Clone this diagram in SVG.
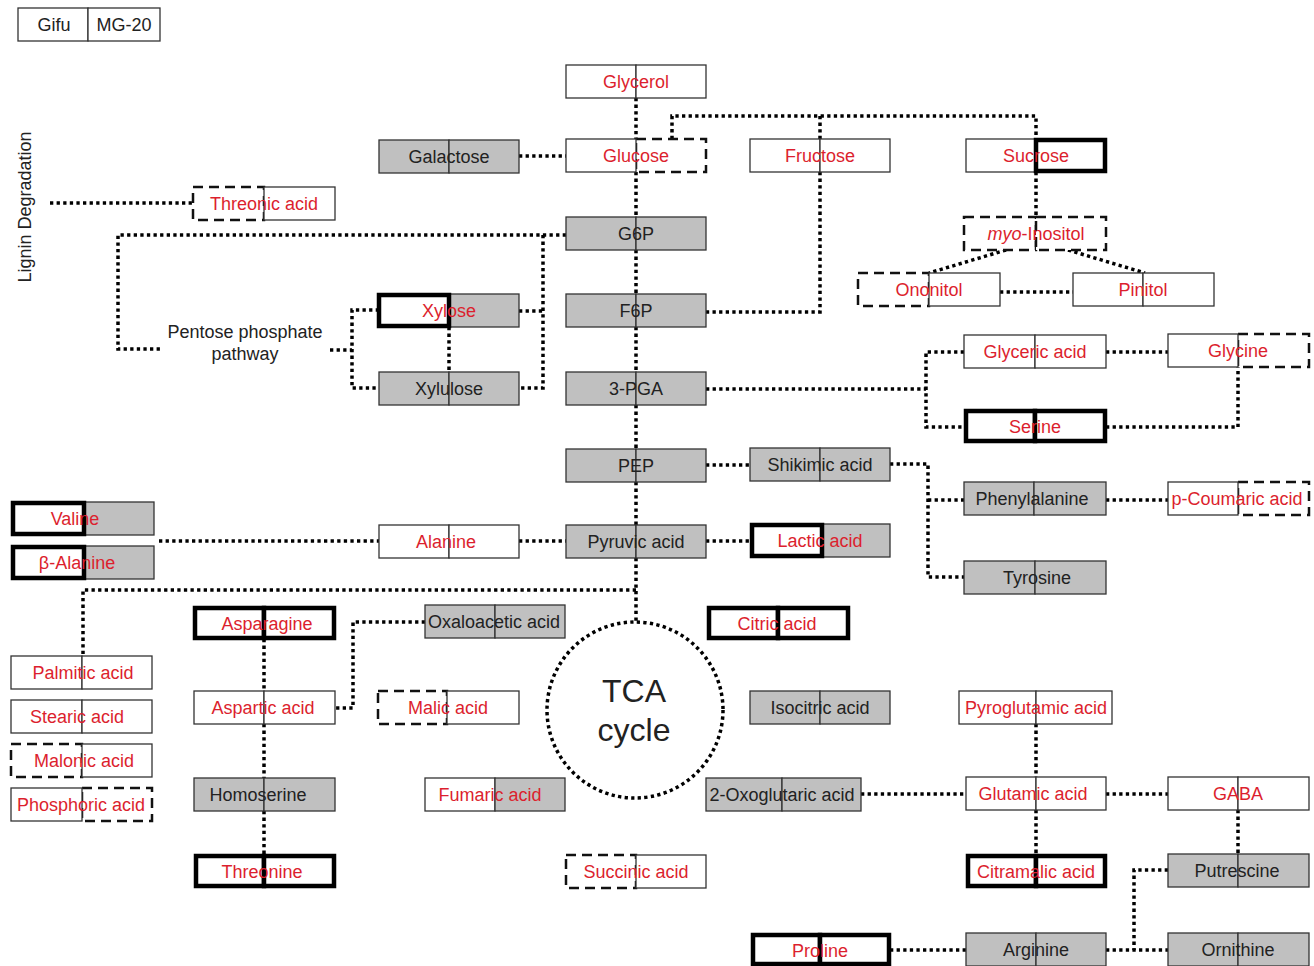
<svg xmlns="http://www.w3.org/2000/svg" width="1314" height="966" viewBox="0 0 1314 966">
<style>
.w{fill:#fff;stroke:#333;stroke-width:1.3}
.g{fill:#c0c0c0;stroke:#333;stroke-width:1.3}
.k{fill:#fff;stroke:#000;stroke-width:4.5}
.d{fill:#fff;stroke:#111;stroke-width:2.5;stroke-dasharray:10 6}
text{font-family:"Liberation Sans",Arial,sans-serif;font-size:18px;text-anchor:middle}
.r{fill:#dc1f2e}
.b{fill:#222}
.c path,.c circle{fill:none;stroke:#000;stroke-width:3.5;stroke-dasharray:3.3 3.3}
</style>
<rect width="1314" height="966" fill="#fff"/>
<g id="connectors" class="c">
<path d="M636 98V139M636 172V217M636 250V294M636 327V372M636 405V449M636 482V525M636 558V622"/>
<path d="M519 156H566"/>
<path d="M672 139V116H1036V139M820 116V139"/>
<path d="M820 172V312H706"/>
<path d="M50 203H193"/>
<path d="M566 235H118V349H160"/>
<path d="M543 235V388H519M519 311H543"/>
<path d="M330 350H352M379 310H352V388H379"/>
<path d="M449 327V372"/>
<path d="M706 389H926M964 352H926V427H964"/>
<path d="M1106 352H1168"/>
<path d="M1106 427H1238V367"/>
<path d="M1036 172V217"/>
<path d="M1006 250L929 273M1068 250L1145 273"/>
<path d="M1000 292H1073"/>
<path d="M706 465H750"/>
<path d="M890 464H928V577H964M928 500H964"/>
<path d="M1106 500H1168"/>
<path d="M159 541H379M519 541H566M706 541H750"/>
<path d="M636 590H83V656"/>
<path d="M425 622H353V708H335"/>
<path d="M264 639V691M264 724V778M264 811V854"/>
<circle cx="635" cy="710" r="88"/>
<path d="M1036 724V777M1036 810V854"/>
<path d="M861 794H966M1106 794H1168"/>
<path d="M1238 810V854"/>
<path d="M1168 870H1134V950"/>
<path d="M890 950H966M1106 950H1168"/>
</g>
<g id="legend"><rect class="w" x="18" y="8" width="70" height="33"/><rect class="w" x="88" y="8" width="72" height="33"/><text class="b" x="54" y="31">Gifu</text><text class="b" x="124" y="31">MG-20</text></g>
<text id="lignin" class="b" transform="translate(31 207) rotate(-90)" x="0" y="0">Lignin Degradation</text>
<g id="pentose"><text class="b" x="245" y="338">Pentose phosphate</text><text class="b" x="245" y="360">pathway</text></g>
<g id="tca"><text class="b" x="634" y="702" style="font-size:32px">TCA</text><text class="b" x="634" y="741" style="font-size:32px">cycle</text></g>
<g id="glycerol"><rect class="w" x="566" y="65" width="70" height="33"/><rect class="w" x="636" y="65" width="70" height="33"/><text class="r" x="636" y="88">Glycerol</text></g>
<g id="galactose"><rect class="g" x="379" y="140" width="70" height="33"/><rect class="g" x="449" y="140" width="70" height="33"/><text class="b" x="449" y="163">Galactose</text></g>
<g id="glucose"><rect class="d" x="636" y="139" width="70" height="33"/><rect class="w" x="566" y="139" width="70" height="33"/><text class="r" x="636" y="162">Glucose</text></g>
<g id="fructose"><rect class="w" x="750" y="139" width="70" height="33"/><rect class="w" x="820" y="139" width="70" height="33"/><text class="r" x="820" y="162">Fructose</text></g>
<g id="sucrose"><rect class="w" x="966" y="139" width="70" height="33"/><rect class="k" x="1036" y="140" width="69" height="31"/><text class="r" x="1036" y="162">Sucrose</text></g>
<g id="threonic"><rect class="d" x="193" y="187" width="71" height="33"/><rect class="w" x="264" y="187" width="71" height="33"/><text class="r" x="264" y="210">Threonic acid</text></g>
<g id="g6p"><rect class="g" x="566" y="217" width="70" height="33"/><rect class="g" x="636" y="217" width="70" height="33"/><text class="b" x="636" y="240">G6P</text></g>
<g id="myo-inositol"><rect class="d" x="964" y="217" width="72" height="33"/><rect class="d" x="1036" y="217" width="70" height="33"/><text class="r" x="1036" y="240"><tspan font-style="italic">myo</tspan>-Inositol</text></g>
<g id="ononitol"><rect class="d" x="858" y="273" width="71" height="33"/><rect class="w" x="929" y="273" width="71" height="33"/><text class="r" x="929" y="296">Ononitol</text></g>
<g id="pinitol"><rect class="w" x="1073" y="273" width="70" height="33"/><rect class="w" x="1143" y="273" width="71" height="33"/><text class="r" x="1143" y="296">Pinitol</text></g>
<g id="xylose"><rect class="g" x="449" y="294" width="70" height="33"/><rect class="k" x="379" y="295" width="70" height="31"/><text class="r" x="449" y="317">Xylose</text></g>
<g id="f6p"><rect class="g" x="566" y="294" width="70" height="33"/><rect class="g" x="636" y="294" width="70" height="33"/><text class="b" x="636" y="317">F6P</text></g>
<g id="xylulose"><rect class="g" x="379" y="372" width="70" height="33"/><rect class="g" x="449" y="372" width="70" height="33"/><text class="b" x="449" y="395">Xylulose</text></g>
<g id="pga"><rect class="g" x="566" y="372" width="70" height="33"/><rect class="g" x="636" y="372" width="70" height="33"/><text class="b" x="636" y="395">3-PGA</text></g>
<g id="glyceric"><rect class="w" x="964" y="335" width="71" height="33"/><rect class="w" x="1035" y="335" width="71" height="33"/><text class="r" x="1035" y="358">Glyceric acid</text></g>
<g id="glycine"><rect class="d" x="1238" y="334" width="71" height="33"/><rect class="w" x="1168" y="334" width="70" height="33"/><text class="r" x="1238" y="357">Glycine</text></g>
<g id="serine"><rect class="k" x="966" y="411" width="69" height="30"/><rect class="k" x="1035" y="411" width="70" height="30"/><text class="r" x="1035" y="433">Serine</text></g>
<g id="pep"><rect class="g" x="566" y="449" width="70" height="33"/><rect class="g" x="636" y="449" width="70" height="33"/><text class="b" x="636" y="472">PEP</text></g>
<g id="shikimic"><rect class="g" x="750" y="448" width="70" height="33"/><rect class="g" x="820" y="448" width="70" height="33"/><text class="b" x="820" y="471">Shikimic acid</text></g>
<g id="phenylalanine"><rect class="g" x="964" y="482" width="70" height="33"/><rect class="g" x="1034" y="482" width="72" height="33"/><text class="b" x="1032" y="505">Phenylalanine</text></g>
<g id="tyrosine"><rect class="g" x="964" y="561" width="71" height="33"/><rect class="g" x="1035" y="561" width="71" height="33"/><text class="b" x="1037" y="584">Tyrosine</text></g>
<g id="pcoumaric"><rect class="d" x="1238" y="482" width="71" height="33"/><rect class="w" x="1168" y="482" width="70" height="33"/><text class="r" x="1237" y="505">p-Coumaric acid</text></g>
<g id="valine"><rect class="g" x="84" y="502" width="70" height="33"/><rect class="k" x="13" y="503" width="71" height="31"/><text class="r" x="75" y="525">Valine</text></g>
<g id="balanine"><rect class="g" x="84" y="546" width="70" height="33"/><rect class="k" x="13" y="547" width="71" height="31"/><text class="r" x="77" y="569">β-Alanine</text></g>
<g id="alanine"><rect class="w" x="379" y="525" width="70" height="33"/><rect class="w" x="449" y="525" width="70" height="33"/><text class="r" x="446" y="548">Alanine</text></g>
<g id="pyruvic"><rect class="g" x="566" y="525" width="70" height="33"/><rect class="g" x="636" y="525" width="70" height="33"/><text class="b" x="636" y="548">Pyruvic acid</text></g>
<g id="lactic"><rect class="g" x="822" y="524" width="68" height="33"/><rect class="k" x="752" y="525" width="70" height="31"/><text class="r" x="820" y="547">Lactic acid</text></g>
<g id="asparagine"><rect class="k" x="195" y="608" width="69" height="30"/><rect class="k" x="264" y="608" width="70" height="30"/><text class="r" x="267" y="630">Asparagine</text></g>
<g id="oxaloacetic"><rect class="g" x="425" y="605" width="70" height="33"/><rect class="g" x="495" y="605" width="70" height="33"/><text class="b" x="494" y="628">Oxaloacetic acid</text></g>
<g id="citric"><rect class="k" x="709" y="608" width="69" height="30"/><rect class="k" x="778" y="608" width="70" height="30"/><text class="r" x="777" y="630">Citric acid</text></g>
<g id="palmitic"><rect class="w" x="11" y="656" width="71" height="33"/><rect class="w" x="82" y="656" width="70" height="33"/><text class="r" x="83" y="679">Palmitic acid</text></g>
<g id="stearic"><rect class="w" x="11" y="700" width="71" height="33"/><rect class="w" x="82" y="700" width="70" height="33"/><text class="r" x="77" y="723">Stearic acid</text></g>
<g id="malonic"><rect class="d" x="11" y="744" width="71" height="33"/><rect class="w" x="82" y="744" width="70" height="33"/><text class="r" x="84" y="767">Malonic acid</text></g>
<g id="phosphoric"><rect class="d" x="82" y="788" width="70" height="33"/><rect class="w" x="11" y="788" width="71" height="33"/><text class="r" x="81" y="811">Phosphoric acid</text></g>
<g id="aspartic"><rect class="w" x="194" y="691" width="70" height="33"/><rect class="w" x="264" y="691" width="71" height="33"/><text class="r" x="263" y="714">Aspartic acid</text></g>
<g id="malic"><rect class="d" x="378" y="691" width="69" height="33"/><rect class="w" x="447" y="691" width="72" height="33"/><text class="r" x="448" y="714">Malic acid</text></g>
<g id="isocitric"><rect class="g" x="750" y="691" width="70" height="33"/><rect class="g" x="820" y="691" width="70" height="33"/><text class="b" x="820" y="714">Isocitric acid</text></g>
<g id="pyroglutamic"><rect class="w" x="959" y="691" width="77" height="33"/><rect class="w" x="1036" y="691" width="76" height="33"/><text class="r" x="1036" y="714">Pyroglutamic acid</text></g>
<g id="homoserine"><rect class="g" x="194" y="778" width="70" height="33"/><rect class="g" x="264" y="778" width="71" height="33"/><text class="b" x="258" y="801">Homoserine</text></g>
<g id="fumaric"><rect class="w" x="425" y="778" width="70" height="33"/><rect class="g" x="495" y="778" width="70" height="33"/><text class="r" x="490" y="801">Fumaric acid</text></g>
<g id="oxoglutaric"><rect class="g" x="706" y="778" width="76" height="33"/><rect class="g" x="782" y="778" width="79" height="33"/><text class="b" x="782" y="801">2-Oxoglutaric acid</text></g>
<g id="glutamic"><rect class="w" x="966" y="777" width="70" height="33"/><rect class="w" x="1036" y="777" width="70" height="33"/><text class="r" x="1033" y="800">Glutamic acid</text></g>
<g id="gaba"><rect class="w" x="1168" y="777" width="70" height="33"/><rect class="w" x="1238" y="777" width="71" height="33"/><text class="r" x="1238" y="800">GABA</text></g>
<g id="threonine"><rect class="k" x="196" y="856" width="68" height="30"/><rect class="k" x="264" y="856" width="70" height="30"/><text class="r" x="262" y="878">Threonine</text></g>
<g id="succinic"><rect class="d" x="566" y="855" width="70" height="33"/><rect class="w" x="636" y="855" width="70" height="33"/><text class="r" x="636" y="878">Succinic acid</text></g>
<g id="citramalic"><rect class="k" x="968" y="856" width="68" height="30"/><rect class="k" x="1036" y="856" width="69" height="30"/><text class="r" x="1036" y="878">Citramalic acid</text></g>
<g id="putrescine"><rect class="g" x="1168" y="854" width="70" height="33"/><rect class="g" x="1238" y="854" width="71" height="33"/><text class="b" x="1237" y="877">Putrescine</text></g>
<g id="proline"><rect class="k" x="753" y="935" width="67" height="29"/><rect class="k" x="820" y="935" width="69" height="29"/><text class="r" x="820" y="957">Proline</text></g>
<g id="arginine"><rect class="g" x="966" y="933" width="70" height="33"/><rect class="g" x="1036" y="933" width="70" height="33"/><text class="b" x="1036" y="956">Arginine</text></g>
<g id="ornithine"><rect class="g" x="1168" y="933" width="70" height="33"/><rect class="g" x="1238" y="933" width="71" height="33"/><text class="b" x="1238" y="956">Ornithine</text></g>
</svg>
